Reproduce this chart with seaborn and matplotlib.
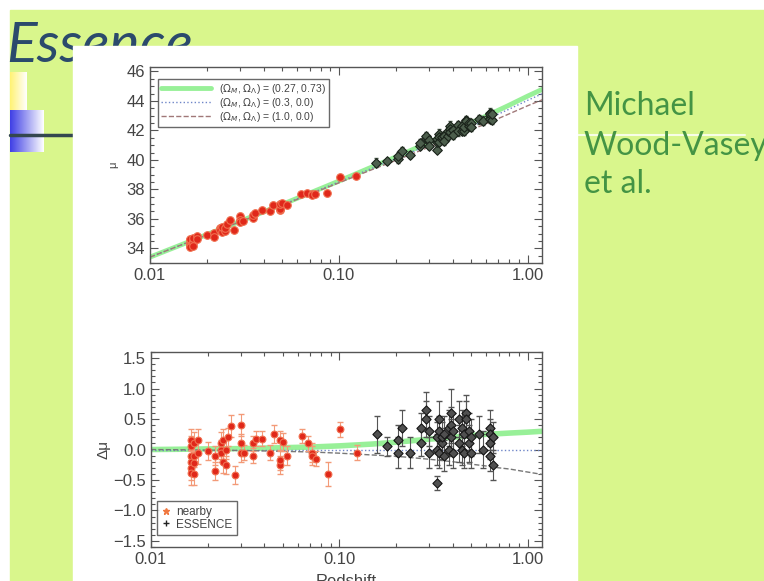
import numpy as np
import pandas as pd
import matplotlib
matplotlib.use("Agg")
import matplotlib.pyplot as plt
from matplotlib.lines import Line2D
from matplotlib.patches import Rectangle
from matplotlib.ticker import AutoMinorLocator, LogLocator, NullFormatter
import seaborn as sns

# model curves
z_model = [0.01, 0.015, 0.02, 0.03, 0.05, 0.07, 0.1, 0.15, 0.2, 0.3,
           0.4, 0.5, 0.6, 0.7, 0.8, 1.0, 1.2]
mu_lcdm = [33.40, 34.29, 34.93, 35.83, 36.97, 37.74, 38.56, 39.52, 40.19, 41.19,
           41.92, 42.50, 42.97, 43.37, 43.72, 44.33, 44.80]
mu_open = [33.40, 34.285, 34.92, 35.815, 36.94, 37.70, 38.50, 39.43, 40.07, 41.02,
           41.72, 42.27, 42.72, 43.11, 43.45, 44.045, 44.50]
mu_eds = [33.40, 34.28, 34.91, 35.80, 36.91, 37.66, 38.44, 39.34, 39.96, 40.86,
          41.52, 42.03, 42.45, 42.81, 43.13, 43.675, 44.09]
dmu_lcdm = [0.0, 0.005, 0.01, 0.015, 0.03, 0.04, 0.06, 0.09, 0.12, 0.17,
            0.20, 0.23, 0.25, 0.26, 0.27, 0.285, 0.30]
dmu_open = [0.0, 0.0, 0.0, 0.0, 0.0, 0.0, 0.0, 0.0, 0.0, 0.0,
            0.0, 0.0, 0.0, 0.0, 0.0, 0.0, 0.0]
dmu_eds = [0.0, -0.005, -0.01, -0.015, -0.03, -0.04, -0.06, -0.09, -0.11, -0.16,
           -0.20, -0.24, -0.27, -0.30, -0.32, -0.37, -0.41]

# nearby supernovae
z_nb = [0.0163, 0.0163, 0.0163, 0.0163, 0.0163, 0.0163, 0.0170, 0.0170, 0.0170, 0.0170,
        0.0178, 0.0178, 0.0200, 0.0218, 0.0218, 0.0235, 0.0235, 0.0235, 0.0240, 0.0240,
        0.0250, 0.0250, 0.0255, 0.0265, 0.0278, 0.0300, 0.0300, 0.0300, 0.0310, 0.0350,
        0.0350, 0.0360, 0.0390, 0.0430, 0.0450, 0.0487, 0.0487, 0.0487, 0.0500, 0.0530,
        0.0630, 0.0680, 0.0720, 0.0720, 0.0750, 0.0870, 0.1010, 0.1240]
mu_nb = [34.53, 34.38, 34.28, 34.18, 34.10, 34.63, 34.47, 34.35, 34.67, 34.17,
         34.82, 34.62, 34.91, 35.01, 34.76, 35.38, 35.28, 35.23, 35.12, 35.47,
         35.16, 35.41, 35.66, 35.92, 35.23, 36.21, 35.91, 35.76, 35.84, 36.05,
         36.25, 36.40, 36.57, 36.56, 36.96, 36.63, 36.70, 37.03, 37.06, 36.97,
         37.68, 37.73, 37.70, 37.65, 37.70, 37.78, 38.84, 38.93]
dmu_nb = [0.05, -0.10, -0.20, -0.30, -0.38, 0.15, -0.10, -0.22, 0.10, -0.40,
          0.15, -0.05, -0.02, -0.10, -0.35, 0.10, 0.00, -0.05, -0.20, 0.15,
          -0.25, 0.00, 0.20, 0.38, -0.42, 0.40, 0.10, -0.05, -0.05, -0.10,
          0.10, 0.18, 0.18, -0.05, 0.25, -0.25, -0.18, 0.15, 0.12, -0.10,
          0.22, 0.10, -0.05, -0.10, -0.15, -0.40, 0.33, -0.05]
err_nb = [0.18, 0.18, 0.20, 0.20, 0.20, 0.18, 0.18, 0.18, 0.18, 0.18,
          0.18, 0.18, 0.15, 0.15, 0.15, 0.18, 0.15, 0.15, 0.18, 0.18,
          0.15, 0.15, 0.15, 0.18, 0.15, 0.18, 0.15, 0.15, 0.12, 0.12,
          0.12, 0.12, 0.12, 0.12, 0.15, 0.15, 0.15, 0.15, 0.15, 0.15,
          0.12, 0.12, 0.15, 0.15, 0.12, 0.20, 0.12, 0.12]

# ESSENCE supernovae
z_es = [0.158, 0.180, 0.205, 0.205, 0.215, 0.238, 0.270, 0.270, 0.290, 0.290,
        0.300, 0.300, 0.329, 0.329, 0.329, 0.340, 0.340, 0.340, 0.350, 0.350,
        0.360, 0.360, 0.380, 0.380, 0.390, 0.390, 0.390, 0.400, 0.400, 0.430,
        0.430, 0.450, 0.450, 0.460, 0.460, 0.470, 0.470, 0.490, 0.490, 0.500,
        0.500, 0.550, 0.580, 0.630, 0.630, 0.630, 0.630, 0.650, 0.650]
mu_es = [39.80, 39.89, 40.07, 40.27, 40.57, 40.36, 40.91, 41.16, 41.46, 41.61,
         41.32, 40.97, 40.65, 41.20, 41.40, 41.78, 41.58, 41.23, 41.44, 41.54,
         41.64, 41.29, 41.62, 41.97, 42.27, 42.07, 41.87, 42.02, 41.67, 42.35,
         41.95, 42.30, 41.95, 41.95, 42.25, 42.71, 42.61, 42.32, 42.52, 42.47,
         42.22, 42.76, 42.65, 43.20, 42.95, 42.75, 43.10, 42.68, 43.13]
dmu_es = [0.25, 0.05, -0.05, 0.15, 0.35, -0.05, 0.10, 0.35, 0.50, 0.65,
          0.30, -0.05, -0.55, 0.00, 0.20, 0.50, 0.30, -0.05, 0.10, 0.20,
          0.25, -0.10, 0.00, 0.35, 0.60, 0.40, 0.20, 0.30, -0.05, 0.50,
          0.10, 0.35, 0.00, -0.05, 0.25, 0.60, 0.50, 0.10, 0.30, 0.20,
          -0.05, 0.25, 0.00, 0.35, 0.10, -0.10, 0.25, -0.25, 0.20]
err_es = [0.30, 0.15, 0.25, 0.25, 0.30, 0.25, 0.20, 0.25, 0.30, 0.30,
          0.25, 0.25, 0.12, 0.25, 0.25, 0.30, 0.25, 0.25, 0.25, 0.25,
          0.30, 0.25, 0.25, 0.30, 0.40, 0.30, 0.30, 0.30, 0.25, 0.30,
          0.30, 0.30, 0.25, 0.25, 0.30, 0.30, 0.30, 0.30, 0.30, 0.30,
          0.25, 0.30, 0.30, 0.30, 0.25, 0.25, 0.25, 0.25, 0.25]

model_labels = [r"($\Omega_M$, $\Omega_\Lambda$) = (0.27, 0.73)",
                r"($\Omega_M$, $\Omega_\Lambda$) = (0.3, 0.0)",
                r"($\Omega_M$, $\Omega_\Lambda$) = (1.0, 0.0)"]

YELLOW = "#d9f68c"
GREEN_LINE = "#98f098"
DOT_LINE = "#6f86c8"
DASH_LINE = "#a07878"
RED = "#e0281a"
ORANGE = "#f39a78"

sns.set_style("ticks")
plt.rcParams["font.family"] = ["Liberation Sans", "DejaVu Sans"]

fig = plt.figure(figsize=(7.64, 5.81), dpi=100, facecolor="white")

# slide background
bg = fig.add_axes([0, 0, 1, 1], zorder=-10)
bg.axis("off")
bg.add_patch(Rectangle((10, 10), 754, 571, color=YELLOW, zorder=0))
grad = np.linspace(0, 1, 64)[None, :, None]
yel = np.array([1.0, 0.95, 0.45]) * (1 - grad) + grad
blu = np.array([0.25, 0.25, 0.9]) * (1 - grad) + grad
bg.imshow(yel, extent=(10, 27, 110, 72), aspect="auto", zorder=1)
bg.imshow(blu, extent=(10, 44, 152, 110), aspect="auto", zorder=1)
bg.plot([10, 75], [135, 135], color="#34474f", lw=2.5, zorder=2)
bg.plot([575, 745], [135, 135], color="white", lw=1.5, alpha=0.8, zorder=2)
bg.text(6, 62, "Essence", fontfamily="Lato", style="italic", fontsize=41,
        color="#2b4a6c", va="baseline", zorder=3)
bg.add_patch(Rectangle((73, 46), 504, 540, color="white", zorder=5))
for txt, yb in zip(["Michael", "Wood-Vasey", "et al."], [115, 155, 193]):
    bg.text(584, yb, txt, fontfamily="Lato", fontsize=23,
            color="#449444", va="baseline", zorder=3)
bg.set_xlim(0, 764)
bg.set_ylim(581, 0)

ax1 = fig.add_axes([0.1963, 0.5473, 0.5131, 0.3373])
ax2 = fig.add_axes([0.1976, 0.0585, 0.5118, 0.3356])

# top: distance modulus
sns.lineplot(x=z_model, y=mu_lcdm, ax=ax1, color=GREEN_LINE, lw=3.5, sort=False, zorder=1)
sns.lineplot(x=z_model, y=mu_open, ax=ax1, color=DOT_LINE, lw=1, linestyle=":", sort=False, zorder=1)
sns.lineplot(x=z_model, y=mu_eds, ax=ax1, color=DASH_LINE, lw=1, linestyle="--", sort=False, zorder=1)
ax1.errorbar(z_nb, mu_nb, yerr=err_nb, fmt="none", ecolor=ORANGE, elinewidth=0.8, capsize=1.5, zorder=2)
ax1.errorbar(z_es, mu_es, yerr=err_es, fmt="none", ecolor="#4a5a4a", elinewidth=0.8, capsize=1.5, zorder=2)
sns.scatterplot(x=z_nb, y=mu_nb, ax=ax1, marker="o", s=30, color=RED, edgecolor="#f07050",
                linewidth=0.8, zorder=3)
sns.scatterplot(x=z_es, y=mu_es, ax=ax1, marker="D", s=24, color="#4c5e4c", edgecolor="#1a221a",
                linewidth=0.8, zorder=3)

# bottom: residuals
sns.lineplot(x=z_model, y=dmu_lcdm, ax=ax2, color=GREEN_LINE, lw=4, sort=False, zorder=1)
sns.lineplot(x=z_model, y=dmu_open, ax=ax2, color=DOT_LINE, lw=1, linestyle=":", sort=False, zorder=1)
sns.lineplot(x=z_model, y=dmu_eds, ax=ax2, color="#777777", lw=1, linestyle="--", sort=False, zorder=1)
ax2.errorbar(z_nb, dmu_nb, yerr=err_nb, fmt="none", ecolor=ORANGE, elinewidth=0.8, capsize=2, zorder=2)
ax2.errorbar(z_es, dmu_es, yerr=err_es, fmt="none", ecolor="#555555", elinewidth=0.8, capsize=2, zorder=2)
sns.scatterplot(x=z_nb, y=dmu_nb, ax=ax2, marker="o", s=24, color=RED, edgecolor="#f07050",
                linewidth=0.8, zorder=3)
sns.scatterplot(x=z_es, y=dmu_es, ax=ax2, marker="D", s=22, color="#505050", edgecolor="#151515",
                linewidth=0.8, zorder=3)

for ax in (ax1, ax2):
    ax.set_xscale("log")
    ax.set_xlim(0.01, 1.19)
    ax.set_xticks([0.01, 0.1, 1.0])
    ax.set_xticklabels(["0.01", "0.10", "1.00"])
    ax.xaxis.set_minor_locator(LogLocator(base=10, subs=np.arange(2, 10)))
    ax.xaxis.set_minor_formatter(NullFormatter())
    ax.tick_params(which="both", direction="in", top=True, right=True,
                   color="#555555", labelcolor="#444444", labelsize=12, width=0.8)
    ax.tick_params(which="major", length=6)
    ax.tick_params(which="minor", length=3)
    for sp in ax.spines.values():
        sp.set_color("#555555")
        sp.set_linewidth(1.0)
    ax.set_facecolor("white")

ax1.set_ylim(33, 46.3)
ax1.set_yticks([34, 36, 38, 40, 42, 44, 46])
ax1.yaxis.set_minor_locator(AutoMinorLocator(4))
ax1.set_ylabel("μ", fontsize=8, color="#444444", labelpad=6)

ax2.set_ylim(-1.6, 1.6)
ax2.set_yticks([-1.5, -1.0, -0.5, 0.0, 0.5, 1.0, 1.5])
ax2.set_yticklabels(["\u22121.5", "\u22121.0", "\u22120.5", "0.0", "0.5", "1.0", "1.5"])
ax2.yaxis.set_minor_locator(AutoMinorLocator(5))
ax2.set_ylabel("Δμ", fontsize=11, color="#444444", labelpad=2)
ax2.set_xlabel("Redshift", fontsize=12, color="#444444", labelpad=5)

h1 = [Line2D([], [], color=GREEN_LINE, lw=3.5),
      Line2D([], [], color=DOT_LINE, lw=1, linestyle=":"),
      Line2D([], [], color=DASH_LINE, lw=1, linestyle="--")]
leg1 = ax1.legend(h1, model_labels, loc="upper left", bbox_to_anchor=(0.02, 0.94),
                  borderaxespad=0, fontsize=7.5, handlelength=4.8, frameon=True,
                  fancybox=False, edgecolor="#444444", labelspacing=0.0,
                  borderpad=0.3, handletextpad=0.8)
leg1.get_frame().set_linewidth(1.0)
for t in leg1.get_texts():
    t.set_color("#444444")

h2 = [Line2D([], [], color="#f07840", marker="*", ls="none", markersize=5),
      Line2D([], [], color="#222222", marker="+", ls="none", markersize=5)]
leg2 = ax2.legend(h2, ["nearby", "ESSENCE"], loc="lower left", bbox_to_anchor=(0.015, 0.06),
                  borderaxespad=0, fontsize=8.5, handlelength=0.8, handletextpad=0.4,
                  frameon=True, fancybox=False, edgecolor="#444444", labelspacing=0.05,
                  borderpad=0.4)
leg2.get_frame().set_linewidth(1.0)
for t in leg2.get_texts():
    t.set_color("#444444")

fig.savefig("out.png", dpi=100)
